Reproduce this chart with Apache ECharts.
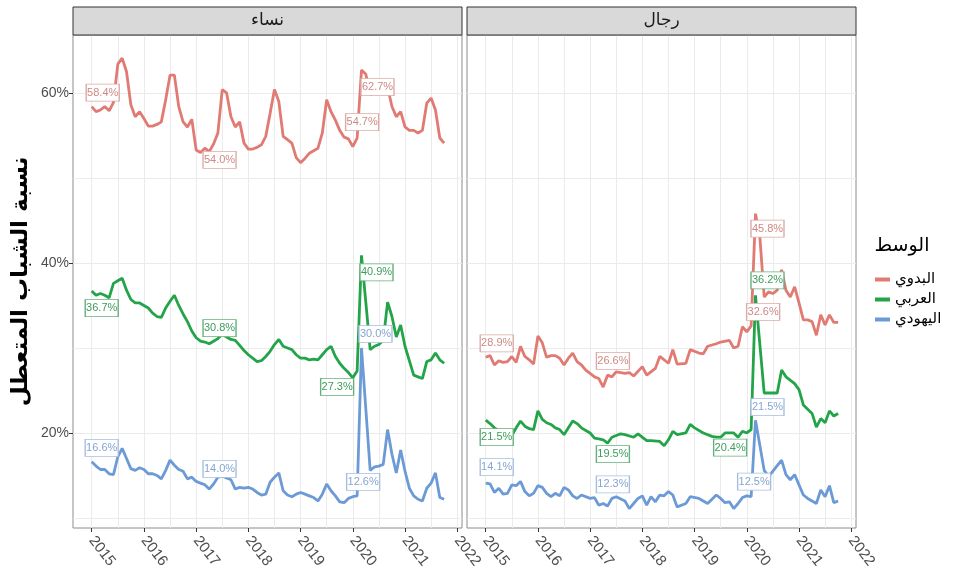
<!DOCTYPE html>
<html><head><meta charset="utf-8">
<script src="https://cdn.jsdelivr.net/npm/echarts@6/dist/echarts.min.js"></script>
<style>html,body{margin:0;padding:0;background:#fff}#c{width:955px;height:578px}</style>
</head><body><div id="c"></div>
<script>
// ---------- DATA ----------
const panels = ['نساء', 'رجال'];
const groups = ['البدوي', 'العربي', 'اليهودي'];
const legendTitle = 'الوسط';
const yAxisTitle = 'نسبة الشباب المتعطل';
const yTickValues = [20, 40, 60];
const yGridValues = [10, 20, 30, 40, 50, 60];
const xTickYears = [2015, 2016, 2017, 2018, 2019, 2020, 2021, 2022];
// [months since Jan 2015, percent]
const womenBedouin = [[0,58.4],[1,57.8],[2,58.0],[3,58.4],[4,57.9],[5,58.9],[6,63.4],[7,64.1],[8,62.5],[9,58.6],[10,57.2],[11,57.8],[12,57.0],[13,56.1],[14,56.1],[15,56.3],[16,56.6],[17,59.2],[18,62.1],[19,62.1],[20,58.4],[21,56.6],[22,56.0],[23,56.9],[24,53.3],[25,53.0],[26,53.5],[27,53.1],[28,54.0],[29,55.3],[30,60.4],[31,60.0],[32,57.2],[33,56.0],[34,56.6],[35,54.1],[36,53.4],[37,53.4],[38,53.6],[39,53.9],[40,54.9],[41,57.6],[42,60.4],[43,59.0],[44,54.9],[45,54.5],[46,54.1],[47,52.4],[48,51.8],[49,52.3],[50,52.9],[51,53.2],[52,53.5],[53,55.3],[54,59.2],[55,57.8],[56,56.8],[57,55.6],[58,54.8],[59,54.6],[60,53.7],[61,54.7],[62,62.7],[63,62.2],[64,59.8],[66,60.8],[68,60.7],[69,58.4],[70,57.2],[71,57.8],[72,56.0],[73,55.6],[74,55.6],[75,55.3],[76,55.6],[77,58.8],[78,59.4],[79,58.0],[80,54.7],[81,54.1]];
const womenArab = [[0,36.7],[1,36.2],[2,36.4],[3,36.2],[4,35.9],[5,37.6],[6,37.9],[7,38.2],[8,36.8],[9,35.7],[10,35.3],[11,35.3],[12,35.0],[13,34.7],[14,34.1],[15,33.7],[16,33.6],[17,34.7],[18,35.5],[19,36.2],[20,35.0],[21,34.0],[22,33.1],[23,32.0],[24,31.2],[25,30.8],[26,30.7],[27,30.5],[28,30.8],[29,31.1],[30,31.6],[31,31.3],[32,31.0],[33,30.9],[34,30.3],[35,29.7],[36,29.2],[37,28.8],[38,28.4],[39,28.5],[40,29.0],[41,29.6],[42,30.4],[43,31.0],[44,30.2],[45,30.0],[46,29.8],[47,29.2],[48,28.8],[49,28.8],[50,28.6],[51,28.7],[52,28.6],[53,29.2],[54,29.8],[55,30.2],[56,29.0],[57,28.2],[58,27.6],[59,27.1],[60,26.5],[61,27.3],[62,40.9],[64,29.8],[65,30.2],[66,30.4],[67,30.9],[68,35.4],[69,33.7],[70,31.3],[71,32.7],[72,30.2],[74,26.8],[75,26.6],[76,26.4],[77,28.4],[78,28.6],[79,29.4],[80,28.6],[81,28.2]];
const womenJewish = [[0,16.6],[1,16.1],[2,15.7],[3,15.7],[4,15.2],[5,15.1],[6,17.2],[7,18.2],[8,17.0],[9,15.8],[10,15.6],[11,15.9],[12,15.7],[13,15.2],[14,15.2],[15,15.0],[16,14.6],[17,15.6],[18,16.8],[19,16.2],[20,15.7],[21,15.5],[22,14.6],[23,14.8],[24,14.3],[25,14.1],[26,13.9],[27,13.4],[28,14.0],[29,14.8],[30,14.9],[31,14.7],[32,14.5],[33,13.4],[34,13.6],[35,13.5],[36,13.6],[37,13.4],[38,13.0],[39,12.7],[40,12.8],[41,14.2],[42,14.8],[43,15.3],[44,13.2],[45,12.7],[46,12.5],[47,12.8],[48,13.0],[49,12.8],[50,12.6],[51,12.4],[52,12.0],[53,12.8],[54,14.0],[55,13.2],[56,12.6],[57,11.9],[58,11.8],[59,12.3],[60,12.5],[61,12.6],[62,30.0],[64,15.6],[65,16.0],[66,16.1],[67,16.3],[68,20.4],[69,17.5],[70,15.3],[71,18.0],[72,15.5],[73,13.5],[74,12.6],[75,12.2],[76,12.0],[77,13.5],[78,14.1],[79,15.3],[80,12.4],[81,12.2]];
const menBedouin = [[0,28.9],[1,29.1],[2,28.0],[3,28.5],[4,28.3],[5,28.4],[6,29.0],[7,28.3],[8,30.2],[9,29.0],[10,28.6],[11,28.1],[12,31.4],[13,30.6],[14,28.9],[15,29.1],[16,29.1],[17,28.8],[18,28.0],[19,28.8],[20,29.4],[21,28.4],[22,28.0],[23,27.4],[24,27.0],[25,26.6],[26,26.4],[27,25.4],[28,26.8],[29,26.6],[30,27.2],[32,27.0],[33,27.1],[34,26.7],[36,27.8],[37,26.8],[39,27.6],[40,29.0],[42,28.2],[43,29.8],[44,28.1],[46,28.2],[47,29.8],[49,29.4],[50,29.3],[51,30.2],[53,30.5],[54,30.7],[56,30.9],[57,30.0],[58,30.2],[59,32.5],[60,31.9],[61,32.6],[62,45.8],[63,43.1],[64,36.0],[65,36.6],[66,36.4],[67,36.8],[68,39.2],[69,36.8],[70,36.0],[71,37.2],[72,35.3],[73,33.3],[74,33.3],[75,33.1],[76,31.5],[77,33.9],[78,32.7],[79,33.9],[80,33.0],[81,33.0]];
const menArab = [[0,21.5],[1,21.1],[2,20.6],[3,20.3],[4,20.0],[5,20.2],[6,19.7],[7,20.6],[8,21.4],[9,20.8],[10,20.5],[11,20.4],[12,22.6],[13,21.6],[14,21.2],[15,21.0],[16,20.6],[17,20.4],[18,19.8],[19,20.6],[20,21.4],[21,21.1],[22,20.6],[23,20.3],[24,20.0],[25,19.4],[26,19.3],[27,19.2],[28,18.8],[29,19.5],[31,19.9],[32,19.8],[34,19.5],[35,19.9],[37,19.1],[38,19.1],[40,19.0],[41,18.5],[42,19.2],[43,20.2],[44,19.8],[46,20.0],[47,21.0],[48,20.6],[50,20.0],[52,19.6],[53,19.5],[54,19.5],[55,20.0],[57,20.0],[58,19.5],[59,20.2],[60,20.0],[61,20.4],[62,36.2],[64,24.7],[67,24.7],[68,27.4],[69,26.6],[71,25.8],[72,25.1],[73,23.3],[74,22.8],[75,22.3],[76,20.7],[77,21.7],[78,21.2],[79,22.6],[80,22.0],[81,22.3]];
const menJewish = [[0,14.1],[1,14.0],[2,13.0],[3,13.5],[4,12.8],[5,12.9],[6,13.9],[7,13.8],[8,14.3],[9,13.1],[10,12.6],[11,12.9],[12,13.8],[13,13.6],[14,12.9],[15,12.5],[16,12.9],[17,12.6],[18,13.6],[19,13.3],[20,12.6],[21,12.3],[22,12.7],[24,12.3],[25,12.4],[26,11.5],[27,11.7],[28,11.4],[29,12.3],[30,12.5],[32,12.0],[33,11.1],[34,11.7],[35,12.3],[36,12.6],[37,11.5],[38,12.5],[39,11.9],[40,12.7],[41,12.6],[42,13.1],[43,12.7],[44,11.3],[46,11.7],[47,12.5],[49,12.3],[51,11.7],[53,12.7],[54,12.3],[55,11.8],[56,11.9],[57,11.1],[58,11.7],[59,12.4],[60,12.6],[61,12.5],[62,21.5],[64,15.6],[65,14.9],[66,15.5],[68,16.8],[69,15.1],[70,14.5],[71,15.1],[73,12.7],[74,12.3],[76,11.7],[77,13.3],[78,12.5],[79,13.8],[80,11.8],[81,12.0]];
// months whose values are annotated
const womenLabelMonths = [0, 28, 61, 62];
const menLabelMonths = [0, 29, 61, 62];

// ---------- STYLE ----------
const colors = ['#e07a72', '#23a449', '#6b9ad7'];
const labelText = ['#cc8a86', '#3d9c5d', '#86a6d0'];
const labelBorder = ['#dcaaa7', '#64b07c', '#a7bfdf'];
// label offsets [dx, dy] per panel / group / label
const labelOffsets = [
  [[[11,-14],[6,16],[5,-16],[16,17]], [[10,17],[6,-13],[-20,16],[15,17]], [[10,-14],[6,-15],[6,-14],[14,-14]]],
  [[[11,-14],[1,-16],[12,-14],[12,15]], [[11,17],[1,17],[-21,18],[12,-15]], [[11,-16],[1,-14],[3,-15],[12,-13]]]
];
const labelBoxSize = [33, 17];
const gridsPos = [{left:73, top:35, width:389, height:493}, {left:467, top:35, width:389, height:493}];
const xMin = -4.3, xMax = 85.1, yMin = 8.82, yMax = 66.82;

const panelData = [[womenBedouin, womenArab, womenJewish], [menBedouin, menArab, menJewish]];
const panelLabelMonths = [womenLabelMonths, menLabelMonths];
const yearMonths = xTickYears.map(y => (y - 2015) * 12);
const halfYearMonths = [];
for (let i = 0; i < yearMonths.length; i++) { halfYearMonths.push(yearMonths[i]); if (i < yearMonths.length - 1) halfYearMonths.push(yearMonths[i] + 6); }

const numFont = 'Liberation Sans';
const arFont = 'DejaVu Sans';

const grid = gridsPos.map(g => Object.assign({show:true, backgroundColor:'#fff', borderColor:'#8c8c8c', borderWidth:1, containLabel:false}, g));
const xAxis = [], yAxis = [];
for (let p = 0; p < 2; p++) {
  xAxis.push({type:'value', gridIndex:p, min:xMin, max:xMax, position:'bottom',
    axisLine:{show:false, onZero:false}, splitLine:{show:false},
    axisTick:{show:true, length:4, lineStyle:{color:'#333'}, customValues:yearMonths},
    axisLabel:{customValues:yearMonths, formatter:v => String(2015 + Math.round(v/12)), rotate:-52, margin:10, fontSize:15, fontFamily:numFont, color:'#4d4d4d'}});
  xAxis.push({type:'value', gridIndex:p, min:xMin, max:xMax, position:'bottom',
    axisLine:{show:false, onZero:false}, axisLabel:{show:false},
    axisTick:{show:false, customValues:halfYearMonths},
    splitLine:{show:true, lineStyle:{color:'#ebebeb', width:1}}});
  yAxis.push({type:'value', gridIndex:p, min:yMin, max:yMax, position:'left',
    axisLine:{show:false, onZero:false}, splitLine:{show:false},
    axisTick:{show:p === 0, length:4, lineStyle:{color:'#333'}, customValues:yTickValues},
    axisLabel:{show:p === 0, customValues:yTickValues, formatter:v => v + '%', fontSize:14, fontFamily:numFont, color:'#4d4d4d', margin:4},
    name: p === 0 ? yAxisTitle : '', nameLocation:'middle', nameGap:40, nameRotate:90,
    nameTextStyle:{fontSize:23, fontWeight:'bold', fontFamily:arFont, color:'#000'}});
  yAxis.push({type:'value', gridIndex:p, min:yMin, max:yMax, position:'left',
    axisLine:{show:false, onZero:false}, axisLabel:{show:false},
    axisTick:{show:false, customValues:yGridValues},
    splitLine:{show:true, lineStyle:{color:'#ebebeb', width:1}}});
}

const series = [];
for (let p = 0; p < 2; p++) {
  const labelItems = [];
  for (let g = 0; g < 3; g++) {
    const data = panelData[p][g];
    series.push({type:'line', name:groups[g], xAxisIndex:2*p, yAxisIndex:2*p, data:data,
      showSymbol:false, symbol:'none', color:colors[g], lineStyle:{width:2.8, color:colors[g]}, z:2, silent:true, animation:false});
    panelLabelMonths[p].forEach((m, k) => {
      const pt = data.find(d => d[0] === m);
      if (!pt) return;
      labelItems.push({value:pt, symbolOffset:labelOffsets[p][g][k],
        itemStyle:{color:'#ffffff', borderColor:labelBorder[g], borderWidth:1, opacity:1},
        label:{show:true, position:'inside', formatter:pt[1].toFixed(1) + '%', color:labelText[g], fontSize:11, fontFamily:numFont}});
    });
  }
  series.push({type:'scatter', xAxisIndex:2*p, yAxisIndex:2*p, data:labelItems, symbol:'rect', symbolSize:labelBoxSize, z:10, silent:true, animation:false});
}

const graphic = [];
gridsPos.forEach((g, p) => {
  graphic.push({type:'rect', shape:{x:g.left, y:7, width:g.width, height:28}, style:{fill:'#d9d9d9', stroke:'#333', lineWidth:1}, z:10});
  graphic.push({type:'text', x:g.left + g.width/2, y:21, style:{text:panels[p], font:'17px "DejaVu Sans"', fill:'#1a1a1a', align:'center', verticalAlign:'middle'}, z:11});
});
graphic.push({type:'text', x:902, y:246, style:{text:legendTitle, font:'19px "DejaVu Sans"', fill:'#000', align:'center', verticalAlign:'middle'}, z:11});

const chart = echarts.init(document.getElementById('c'), null, {renderer:'canvas'});
chart.setOption({
  animation:false,
  backgroundColor:'#fff',
  grid, xAxis, yAxis, series, graphic,
  legend:{data:groups, orient:'vertical', left:870, top:267, itemWidth:15, itemHeight:4, itemGap:5, icon:'rect',
    textStyle:{fontSize:15, fontFamily:arFont, color:'#000'}, selectedMode:false}
});
</script></body></html>
